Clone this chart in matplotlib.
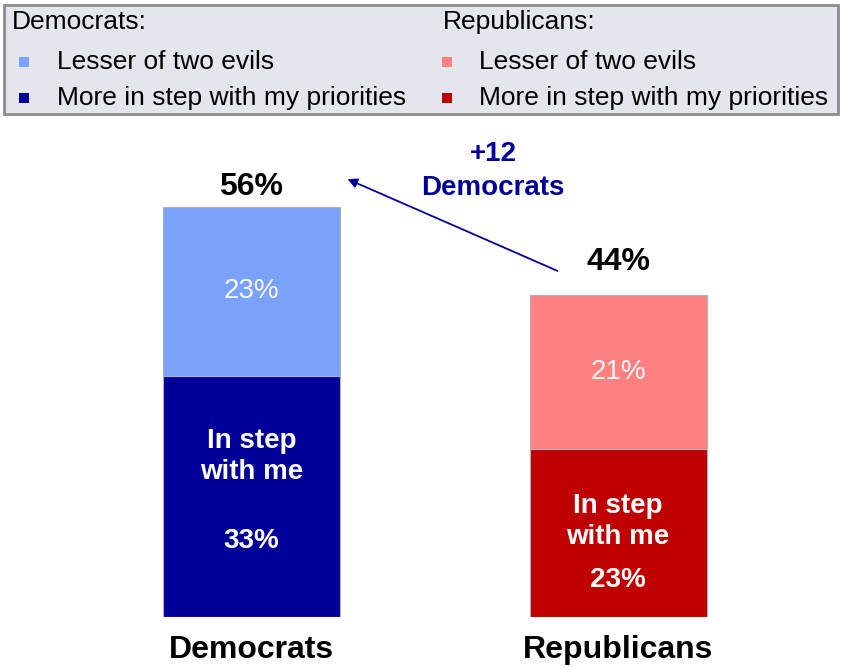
import matplotlib.pyplot as plt
from matplotlib.patches import Rectangle

plt.rcParams['font.family'] = ['Liberation Sans', 'DejaVu Sans']

# data
parties = ["Democrats", "Republicans"]
in_step = [33, 23]
lesser = [23, 21]
totals = [a + b for a, b in zip(in_step, lesser)]

dark_colors = ["#000099", "#c00000"]
light_colors = ["#7aa2fb", "#ff8080"]
navy = "#000099"

W, H = 841, 667


def fx(x):
    return x / W


def fy(y):
    return 1 - y / H


fig = plt.figure(figsize=(W / 100, H / 100), dpi=100)
fig.patch.set_facecolor("white")

# legend box on top
fig.patches.append(Rectangle((fx(4), fy(114)), fx(834), 109 / H, transform=fig.transFigure,
                             facecolor="#e5e5ed", edgecolor="#8c8c8c", linewidth=2))
cols = [(12, 19, 57, "Democrats:", 0), (443, 442, 479, "Republicans:", 1)]
for tx, sq, lx, title, i in cols:
    fig.text(fx(tx), fy(22), title, fontsize=19, va="center", ha="left")
    for yy, lab, col in [(62, "Lesser of two evils", light_colors[i]),
                         (98, "More in step with my priorities", dark_colors[i])]:
        fig.patches.append(Rectangle((fx(sq), fy(yy + 5)), 10 / W, 10 / H,
                                     transform=fig.transFigure, facecolor=col, edgecolor="none"))
        fig.text(fx(lx), fy(yy), lab, fontsize=19, va="center", ha="left")

# bars
ax = fig.add_axes([0, 50 / H, 1, (617 - 178) / H])
ax.set_xlim(-0.686, 1.608)
ax.set_ylim(0, 60)
ax.axis("off")

x = [0, 1]
width = 0.483
ax.bar(x, in_step, width, color=dark_colors, edgecolor="#b0b0b0", linewidth=0.8)
ax.bar(x, lesser, width, bottom=in_step, color=light_colors, edgecolor="#b0b0b0", linewidth=0.8)

# total labels above bars
top_pad = [20, 33]
for i in range(2):
    ax.annotate(f"{totals[i]}%", (x[i], totals[i]), xytext=(0, top_pad[i] * 0.72),
                textcoords="offset points", ha="center", va="center",
                fontsize=23, fontweight="bold", annotation_clip=False)
    ax.text(x[i], in_step[i] + lesser[i] / 2, f"{lesser[i]}%", ha="center", va="center",
            fontsize=20, color="white", alpha=0.92)

# "In step with me" labels
step_y = [22.0, 13.0]
val_y = [10.4, 5.1]
for i in range(2):
    ax.text(x[i], step_y[i], "In step\nwith me", ha="center", va="center", fontsize=20,
            fontweight="bold", color="white", linespacing=1.25)
    ax.text(x[i], val_y[i], f"{in_step[i]}%", ha="center", va="center", fontsize=20,
            fontweight="bold", color="white")

# category labels
for i in range(2):
    ax.annotate(parties[i], (x[i], 0), xytext=(0, -33 * 0.72), textcoords="offset points",
                ha="center", va="center", fontsize=23, fontweight="bold", annotation_clip=False)

# difference arrow
diff = totals[0] - totals[1]
fig.text(fx(493), fy(154), f"+{diff}", ha="center", va="center", fontsize=20,
         fontweight="bold", color=navy)
fig.text(fx(493), fy(188), "Democrats", ha="center", va="center", fontsize=20,
         fontweight="bold", color=navy)
ax.annotate("", xy=(fx(345), fy(178)), xytext=(fx(560), fy(272)),
            xycoords="figure fraction", textcoords="figure fraction",
            arrowprops=dict(arrowstyle="-|>", color=navy, lw=1.3, mutation_scale=14))

fig.savefig("out.png", dpi=100)
